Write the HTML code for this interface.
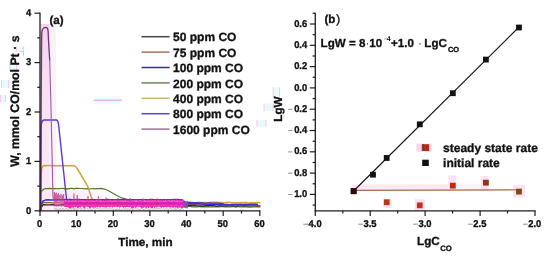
<!DOCTYPE html>
<html><head><meta charset="utf-8"><style>
html,body{margin:0;padding:0;background:#fff;}
body{width:550px;height:258px;overflow:hidden;font-family:"Liberation Sans", sans-serif;}
svg{display:block;will-change:transform;}
</style></head><body>
<svg width="550" height="258" viewBox="0 0 550 258" font-family='"Liberation Sans", sans-serif' fill="#111" text-rendering="geometricPrecision"><defs><linearGradient id="pk" x1="0" y1="0" x2="0" y2="1"><stop offset="0" stop-color="#f5d2ee"/><stop offset="0.35" stop-color="#f8e0f4"/><stop offset="1" stop-color="#fbeaf8"/></linearGradient></defs>
<rect x="41" y="27" width="15" height="183" fill="#fcf0fa"/>
<rect x="40.7" y="24" width="8.6" height="186" fill="url(#pk)"/>
<defs><linearGradient id="pk2" x1="0" y1="0" x2="1" y2="0"><stop offset="0" stop-color="#fbe8f8"/><stop offset="0.6" stop-color="#fcf0fa"/><stop offset="1" stop-color="#ffffff"/></linearGradient></defs>
<rect x="41" y="190" width="70" height="9.5" fill="url(#pk2)"/>
<rect x="95" y="96.5" width="25" height="7.5" fill="#ecfcfc"/>
<line x1="93.6" y1="100.2" x2="121.9" y2="100.2" stroke="#f4a2ec" stroke-width="1.3"/>
<rect x="16.5" y="46.5" width="7.0" height="5.0" fill="#e8fbfb"/>
<line x1="16.5" y1="46.5" x2="16.5" y2="51.5" stroke="#f8c0ee" stroke-width="0.9"/>
<line x1="23.5" y1="46.5" x2="23.5" y2="51.5" stroke="#f8c0ee" stroke-width="0.9"/>
<rect x="9.8" y="62" width="6.699999999999999" height="8" fill="#e8fbfb"/>
<line x1="9.8" y1="62" x2="9.8" y2="70" stroke="#f8c0ee" stroke-width="0.9"/>
<line x1="16.5" y1="62" x2="16.5" y2="70" stroke="#f8c0ee" stroke-width="0.9"/>
<rect x="1.5" y="80" width="7.0" height="8" fill="#e8fbfb"/>
<line x1="1.5" y1="80" x2="1.5" y2="88" stroke="#f8c0ee" stroke-width="0.9"/>
<line x1="8.5" y1="80" x2="8.5" y2="88" stroke="#f8c0ee" stroke-width="0.9"/>
<rect x="0.5" y="95" width="5.0" height="7" fill="#e8fbfb"/>
<line x1="0.5" y1="95" x2="0.5" y2="102" stroke="#f8c0ee" stroke-width="0.9"/>
<line x1="5.5" y1="95" x2="5.5" y2="102" stroke="#f8c0ee" stroke-width="0.9"/>
<rect x="273.2" y="87.5" width="6.300000000000011" height="9.299999999999997" fill="#e8fbfb"/>
<line x1="273.2" y1="87.5" x2="273.2" y2="96.8" stroke="#f8c0ee" stroke-width="0.9"/>
<line x1="279.5" y1="87.5" x2="279.5" y2="96.8" stroke="#f8c0ee" stroke-width="0.9"/>
<rect x="264" y="103.6" width="9" height="7.700000000000003" fill="#e8fbfb"/>
<line x1="264" y1="103.6" x2="264" y2="111.3" stroke="#f8c0ee" stroke-width="0.9"/>
<line x1="273" y1="103.6" x2="273" y2="111.3" stroke="#f8c0ee" stroke-width="0.9"/>
<rect x="257" y="119.8" width="9" height="6.799999999999997" fill="#e8fbfb"/>
<line x1="257" y1="119.8" x2="257" y2="126.6" stroke="#f8c0ee" stroke-width="0.9"/>
<line x1="266" y1="119.8" x2="266" y2="126.6" stroke="#f8c0ee" stroke-width="0.9"/>
<path d="M20.5,51.6 L23.6,51.6 L23.6,55.5" fill="none" stroke="#f4a8e8" stroke-width="1"/>
<polyline points="41.00,192.00 42.20,190.70 44.00,189.00 45.50,188.60 45.86,188.60 47.74,188.53 49.62,188.32 51.50,188.59 53.38,188.57 55.26,188.52 57.14,188.76 59.02,188.56 60.91,188.49 62.79,188.40 64.67,188.81 66.55,188.69 68.43,188.81 70.31,188.39 72.19,188.46 74.07,188.84 75.95,188.28 77.83,188.29 79.71,188.48 81.59,188.50 83.47,188.77 85.35,188.86 87.23,188.55 89.11,188.83 90.99,188.75 92.87,188.72 94.75,188.85 96.64,188.59 98.52,188.61 100.40,188.37 102.28,188.56 104.47,189.06 108.14,190.55 113.27,193.51 120.59,197.46 126.45,199.44 131.58,200.92 131.58,201.33 133.42,201.93 135.25,202.30 137.08,202.85 138.91,203.34 140.74,203.26 142.57,203.57 144.41,203.95 146.24,204.28 148.07,204.75 149.90,205.01 151.73,205.16 153.56,205.47 155.40,205.21 157.23,205.57 159.06,205.43 160.89,205.82 162.72,205.58 164.55,205.74 166.38,206.33 168.22,206.28 170.05,205.94 171.88,206.26 173.71,206.02 175.54,206.42 177.38,206.66 179.21,206.37 181.04,206.32 182.87,206.65 184.70,206.79 186.53,206.68 188.36,206.33 190.20,206.47 192.03,206.87 193.86,206.82 195.69,206.92 197.52,206.96 199.36,206.54 201.19,206.92 203.02,206.70 204.85,206.78 206.68,206.94 208.51,206.63 210.34,206.99 212.18,206.70 214.01,207.01 215.84,206.84 217.67,206.97 219.50,206.94 221.34,206.53 223.17,206.63 225.00,206.93 226.83,206.59 228.66,206.99 230.49,206.89 232.32,206.62 234.16,206.74 235.99,207.07 237.82,206.54 239.65,207.00 241.48,206.98 243.32,206.67 245.15,206.94 246.98,206.96 248.81,207.09 250.64,207.08 252.47,206.79 254.31,206.99 256.14,206.78 257.97,206.92 259.80,206.87" fill="none" stroke="#4e7a2a" stroke-width="1.2" stroke-linejoin="round" stroke-linecap="round" />
<polyline points="40.60,210.50 41.50,207.00 43.00,204.80 43.66,204.55 46.75,204.85 49.84,204.81 52.93,204.66 56.01,205.08 59.10,205.11 62.19,204.68 65.28,204.75 68.36,205.11 71.45,205.16 74.54,204.85 77.63,204.75 80.72,205.21 83.80,204.78 86.89,204.83 89.98,205.02 93.07,205.14 96.15,205.35 99.24,205.40 102.33,204.87 105.42,205.32 108.50,205.06 111.59,205.34 114.68,205.02 117.77,205.17 120.86,205.37 123.94,205.46 127.03,205.15 130.12,205.55 133.21,205.47 136.29,205.30 139.38,205.14 142.47,205.30 145.56,205.51 148.64,205.15 151.73,205.59 154.82,205.72 157.91,205.59 160.99,205.50 164.08,205.74 167.17,205.69 170.26,205.59 173.35,205.49 176.43,205.77 179.52,205.65 182.61,205.35 185.70,205.32 188.78,205.53 191.87,205.52 194.96,205.60 198.05,205.88 201.13,205.96 204.22,205.99 207.31,205.48 210.40,205.62 213.49,205.48 216.57,206.05 219.66,205.71 222.75,205.82 225.84,205.69 228.92,205.95 232.01,205.56 235.10,206.12 238.19,205.86 241.27,205.77 244.36,205.69 247.45,205.80 250.54,205.84 253.62,205.80 256.71,205.75 259.80,206.10" fill="none" stroke="#2e2418" stroke-width="1.35" stroke-linejoin="round" stroke-linecap="round" />
<polyline points="40.60,209.50 41.30,205.00 43.00,202.70 43.66,202.64 46.75,202.55 49.84,202.60 52.93,202.91 56.01,202.73 59.10,202.72 62.19,202.93 65.28,202.94 68.36,203.12 71.45,203.04 74.54,203.06 77.63,203.41 80.72,203.11 83.80,202.94 86.89,203.05 89.98,203.17 93.07,203.41 96.15,203.24 99.24,203.37 102.33,203.49 105.42,203.30 108.50,203.78 111.59,203.42 114.68,203.89 117.77,203.59 120.86,203.69 123.94,203.88 127.03,203.64 130.12,203.80 133.21,203.76 136.29,203.62 139.38,204.05 142.47,204.23 145.56,204.10 148.64,203.91 151.73,204.23 154.82,204.29 157.91,203.89 160.99,204.07 164.08,204.24 167.17,204.01 170.26,204.38 173.35,204.22 176.43,204.53 179.52,204.43 182.61,204.25 185.70,204.22 188.78,204.28 191.87,204.61 194.96,204.53 198.05,204.73 201.13,204.87 204.22,204.69 207.31,204.53 210.40,204.56 213.49,204.68 216.57,204.58 219.66,205.01 222.75,205.11 225.84,204.98 228.92,205.13 232.01,205.20 235.10,205.12 238.19,205.03 241.27,205.15 244.36,205.29 247.45,205.02 250.54,204.97 253.62,205.32 256.71,205.58 259.80,205.64" fill="none" stroke="#a0522a" stroke-width="1.1" stroke-linejoin="round" stroke-linecap="round" />
<polyline points="40.60,210.00 40.90,180.00 41.60,168.50 43.00,166.20 43.66,165.45 45.65,165.78 47.64,165.52 49.63,165.57 51.62,165.67 53.61,165.48 55.60,165.79 57.58,165.74 59.57,165.62 61.56,165.79 63.55,165.47 65.54,165.70 67.53,165.74 69.52,165.78 71.50,165.55 74.00,165.80 75.80,166.60 77.20,168.50 87.60,186.10 91.10,196.60 92.90,200.00 95.00,201.50 96.78,202.63 99.50,202.52 102.22,202.51 104.93,202.42 107.65,202.33 110.37,202.49 113.08,202.78 115.80,202.61 118.52,202.79 121.23,202.89 123.95,202.62 126.67,202.47 129.39,202.79 132.10,202.73 134.82,202.69 137.54,202.48 140.25,202.59 142.97,202.53 145.69,202.45 148.40,202.66 151.12,202.43 153.84,202.36 156.56,202.84 159.27,202.34 161.99,202.47 164.71,202.82 167.42,202.63 170.14,202.53 172.86,202.36 175.57,202.67 178.29,202.56 181.01,202.37 183.72,202.42 186.44,202.34 189.16,202.62 191.88,202.51 194.59,202.77 197.31,202.47 200.03,202.41 202.74,202.52 205.46,202.47 208.18,202.77 210.89,202.36 213.61,202.31 216.33,202.32 219.05,202.58 221.76,202.43 224.48,202.71 227.20,202.36 229.91,202.39 232.63,202.69 235.35,202.85 238.06,202.63 240.78,202.57 243.50,202.44 246.22,202.61 248.93,202.88 251.65,202.42 254.37,202.86 257.08,202.42 259.80,202.79" fill="none" stroke="#cca636" stroke-width="1.5" stroke-linejoin="round" stroke-linecap="round" />
<polyline points="40.60,210.00 41.50,204.00 43.00,201.00 45.30,200.10 45.50,199.91 47.88,199.69 50.26,200.01 52.64,200.01 55.02,199.83 57.40,199.72 59.78,199.67 62.16,199.74 64.54,199.61 66.93,199.84 69.31,199.61 71.69,200.04 74.07,199.97 76.45,199.82 78.83,199.94 81.21,199.72 83.59,199.76 85.97,199.82 88.36,199.66 90.74,199.80 93.12,199.93 95.50,199.89 97.88,199.66 100.26,199.64 102.64,199.98 105.02,199.66 107.41,199.60 109.79,199.82 112.17,199.80 114.55,199.98 116.93,199.82 119.31,199.83 121.69,199.78 124.07,200.07 126.45,199.60 128.84,199.83 131.22,199.88 133.60,199.68 135.98,199.80 138.36,199.84 140.74,199.74 143.12,200.05 145.50,199.81 147.89,199.88 150.27,199.61 152.65,199.62 155.03,199.95 157.41,199.85 159.79,200.02 162.17,199.87 164.55,199.68 166.93,199.64 169.32,199.84 171.70,199.92 174.08,199.99 176.46,199.77 178.84,199.62 181.22,200.13 183.60,201.31 185.98,203.18 188.36,203.50 190.75,203.56 193.13,203.41 195.51,203.67 197.89,203.73 200.27,203.68 202.65,204.01 205.03,203.78 207.41,204.15 209.80,204.04 212.18,204.24 214.56,204.35 216.94,204.26 219.32,204.38 221.70,204.49 224.08,204.52 226.46,204.46 228.84,204.64 231.23,204.62 233.61,204.41 235.99,204.41 238.37,204.46 240.75,204.30 243.13,204.42 245.51,204.30 247.89,204.61 250.28,204.36 252.66,204.32 255.04,204.28 257.42,204.57" fill="none" stroke="#3a2ad8" stroke-width="1.5" stroke-linejoin="round" stroke-linecap="round" />
<polyline points="66.50,199.50 67.47,199.79 70.36,199.43 73.24,199.85 76.13,199.39 79.01,199.46 81.90,199.90 84.78,199.84 87.67,199.55 90.55,199.83 93.44,199.92 96.32,199.49 99.21,199.73 102.09,199.51 104.98,199.91 107.86,199.74 110.75,199.58 113.63,199.97 116.52,199.86 119.40,199.58 122.29,199.44 125.17,199.41 128.06,199.91 130.94,199.68 133.83,199.53 136.71,199.68 139.60,199.57 142.48,199.87 145.37,199.94 148.25,199.92 151.14,199.96 154.02,199.65 156.91,199.68 159.79,199.64 162.68,199.89 165.56,199.87 168.45,199.86 171.33,199.48 174.22,199.39 177.10,199.43 179.99,199.92 182.87,199.94 184.70,202.13 187.27,202.49 189.83,202.38 192.39,202.70 194.96,202.69 197.52,202.72 200.09,202.84 202.65,202.80 205.22,203.22 207.78,202.88 210.34,202.86 212.91,203.32 215.47,203.22 218.04,203.12 220.60,203.38 223.17,203.57" fill="none" stroke="#4a30d0" stroke-width="1.2" stroke-linejoin="round" stroke-linecap="round" />
<path d="M53.74,200.38 L54.65,200.59 L55.57,201.00 L56.48,200.02 L57.40,200.41 L58.32,201.59 L59.23,201.34 L60.15,201.02 L61.06,201.02 L61.98,200.84 L62.90,201.07 L63.81,201.21 L63.81,206.98 L62.90,205.93 L61.98,207.28 L61.06,207.54 L60.15,206.10 L59.23,206.75 L58.32,206.74 L57.40,206.27 L56.48,207.47 L55.57,205.93 L54.65,207.01 L53.74,206.89 Z" fill="#e0409a" opacity="0.55"/>
<path d="M183.60,200.88 L184.52,201.78 L185.43,201.55 L186.35,201.54 L187.27,201.03 L188.18,201.11 L188.18,208.47 L187.27,208.20 L186.35,208.44 L185.43,208.36 L184.52,207.55 L183.60,206.66 Z" fill="#8a4ac8" opacity="0.85"/>
<path d="M63.81,200.51 L64.73,199.32 L65.64,200.64 L66.56,200.10 L67.47,199.91 L68.39,199.66 L69.31,200.03 L70.22,200.19 L71.14,200.47 L72.05,200.17 L72.97,200.48 L73.89,200.55 L74.80,200.24 L75.72,200.43 L76.63,199.56 L77.55,200.47 L78.47,199.24 L79.38,199.76 L80.30,199.57 L81.21,200.50 L82.13,200.08 L83.04,200.25 L83.96,200.51 L84.88,199.91 L85.79,199.60 L86.71,200.06 L87.62,199.42 L88.54,200.08 L89.46,199.17 L90.37,199.60 L91.29,200.53 L92.20,199.84 L93.12,200.13 L94.03,199.99 L94.95,200.60 L95.87,199.79 L96.78,199.48 L97.70,200.66 L98.61,199.98 L99.53,199.76 L100.45,199.13 L101.36,200.11 L102.28,200.10 L103.19,200.19 L104.11,200.23 L105.02,199.14 L105.94,200.18 L106.86,199.50 L107.77,200.05 L108.69,199.68 L109.60,199.69 L110.52,199.58 L111.44,200.34 L112.35,200.01 L113.27,199.60 L114.18,200.39 L115.10,199.40 L116.01,200.22 L116.93,199.62 L117.85,200.43 L118.76,200.47 L119.68,199.64 L120.59,200.52 L121.51,199.46 L122.42,199.95 L123.34,200.39 L124.26,199.39 L125.17,200.39 L126.09,200.39 L127.00,199.31 L127.92,200.37 L128.84,199.65 L129.75,199.77 L130.67,200.57 L131.58,199.11 L132.50,200.51 L133.42,199.79 L134.33,200.58 L135.25,200.29 L136.16,200.16 L137.08,199.56 L137.99,199.46 L138.91,200.04 L139.83,200.40 L140.74,200.55 L141.66,200.58 L142.57,200.54 L143.49,199.12 L144.41,199.37 L145.32,200.16 L146.24,199.76 L147.15,200.08 L148.07,199.50 L148.98,199.86 L149.90,199.66 L150.82,199.96 L151.73,199.37 L152.65,200.57 L153.56,200.42 L154.48,200.11 L155.40,199.18 L156.31,199.53 L157.23,199.78 L158.14,200.34 L159.06,199.19 L159.97,199.30 L160.89,200.66 L161.81,199.24 L162.72,199.61 L163.64,199.66 L164.55,200.04 L165.47,199.41 L166.38,199.30 L167.30,200.25 L168.22,199.23 L169.13,199.70 L170.05,200.35 L170.96,200.38 L171.88,199.79 L172.80,199.89 L173.71,199.77 L174.63,199.84 L175.54,199.96 L176.46,199.21 L177.38,199.78 L178.29,200.60 L179.21,200.54 L180.12,199.52 L181.04,199.30 L181.95,200.16 L182.87,200.37 L183.79,200.27 L183.79,207.53 L182.87,207.74 L181.95,208.17 L181.04,208.03 L180.12,207.33 L179.21,207.98 L178.29,207.15 L177.38,208.16 L176.46,207.25 L175.54,207.79 L174.63,206.89 L173.71,207.79 L172.80,207.81 L171.88,207.14 L170.96,207.65 L170.05,207.16 L169.13,207.61 L168.22,206.76 L167.30,207.16 L166.38,207.51 L165.47,207.06 L164.55,207.12 L163.64,207.69 L162.72,207.03 L161.81,207.40 L160.89,208.11 L159.97,206.54 L159.06,206.65 L158.14,206.40 L157.23,207.35 L156.31,207.45 L155.40,206.94 L154.48,208.13 L153.56,206.42 L152.65,208.01 L151.73,207.98 L150.82,208.03 L149.90,206.79 L148.98,207.96 L148.07,208.12 L147.15,207.08 L146.24,208.28 L145.32,207.45 L144.41,207.00 L143.49,207.89 L142.57,207.55 L141.66,208.19 L140.74,207.79 L139.83,206.49 L138.91,206.97 L137.99,206.54 L137.08,207.08 L136.16,207.44 L135.25,208.07 L134.33,206.84 L133.42,208.30 L132.50,208.37 L131.58,208.29 L130.67,206.71 L129.75,207.22 L128.84,207.23 L127.92,206.94 L127.00,206.98 L126.09,207.09 L125.17,207.68 L124.26,206.96 L123.34,208.08 L122.42,206.78 L121.51,206.64 L120.59,207.30 L119.68,207.70 L118.76,206.74 L117.85,207.28 L116.93,207.07 L116.01,206.60 L115.10,207.27 L114.18,206.88 L113.27,206.85 L112.35,207.87 L111.44,206.45 L110.52,207.15 L109.60,207.59 L108.69,207.03 L107.77,207.04 L106.86,207.31 L105.94,208.33 L105.02,206.52 L104.11,207.88 L103.19,207.11 L102.28,207.33 L101.36,206.52 L100.45,207.63 L99.53,207.56 L98.61,206.42 L97.70,207.44 L96.78,207.00 L95.87,207.84 L94.95,207.41 L94.03,207.64 L93.12,207.59 L92.20,207.44 L91.29,207.16 L90.37,208.32 L89.46,208.14 L88.54,206.71 L87.62,207.22 L86.71,206.46 L85.79,206.55 L84.88,208.40 L83.96,208.36 L83.04,207.06 L82.13,206.49 L81.21,206.49 L80.30,207.94 L79.38,206.70 L78.47,208.00 L77.55,208.38 L76.63,206.53 L75.72,207.55 L74.80,206.82 L73.89,207.54 L72.97,208.33 L72.05,206.73 L71.14,208.38 L70.22,208.26 L69.31,208.21 L68.39,207.57 L67.47,207.17 L66.56,207.00 L65.64,207.27 L64.73,206.83 L63.81,206.59 Z" fill="#e428b2" opacity="1.0"/>
<polyline points="64.18,200.59 64.62,201.46 65.06,200.41 65.50,200.66 65.94,201.79 66.38,200.48 66.82,200.57 67.26,200.58 67.69,201.98 68.13,200.72 68.57,200.44 69.01,201.91 69.45,200.62 69.89,201.92 70.33,201.61 70.77,201.91 71.21,202.11 71.65,201.44 72.09,201.84 72.53,200.47 72.97,201.78 73.41,201.32 73.85,201.69 74.29,200.59 74.73,201.75 75.17,202.08 75.61,200.51 76.05,200.98 76.49,201.42 76.93,201.89 77.37,200.84 77.81,200.72 78.25,200.85 78.68,201.51 79.12,201.76 79.56,201.11 80.00,201.06 80.44,201.11 80.88,201.03 81.32,201.15 81.76,200.55 82.20,201.30 82.64,202.15 83.08,201.14 83.52,201.75 83.96,200.69 84.40,201.64 84.84,201.76 85.28,201.61 85.72,201.33 86.16,201.27 86.60,201.56 87.04,202.02 87.48,200.67 87.92,200.57 88.36,201.75 88.80,202.05 89.24,201.33 89.67,201.20 90.11,201.69 90.55,200.73 90.99,200.88 91.43,200.76 91.87,201.45 92.31,200.97 92.75,200.82 93.19,201.64 93.63,202.12 94.07,200.93 94.51,201.67 94.95,201.14 95.39,201.94 95.83,201.45 96.27,200.88 96.71,200.79 97.15,200.44 97.59,201.26 98.03,201.09 98.47,200.71 98.91,201.05 99.35,200.98 99.79,201.79 100.23,200.66 100.66,202.18 101.10,201.26 101.54,201.48 101.98,201.24 102.42,201.90 102.86,201.88 103.30,201.40 103.74,201.27 104.18,201.70 104.62,201.94 105.06,201.12 105.50,201.72 105.94,202.13 106.38,201.24 106.82,200.81 107.26,200.82 107.70,201.69 108.14,201.62 108.58,202.13 109.02,201.94 109.46,200.84 109.90,200.74 110.34,200.87 110.78,200.74 111.22,201.67 111.65,201.95 112.09,202.02 112.53,200.86 112.97,201.96 113.41,200.96 113.85,201.16 114.29,201.71 114.73,200.55 115.17,200.57 115.61,201.90 116.05,200.93 116.49,201.04 116.93,201.44 117.37,201.62 117.81,200.41 118.25,201.00 118.69,201.19 119.13,201.27 119.57,200.78 120.01,201.45 120.45,202.12 120.89,201.10 121.33,201.38 121.77,200.61 122.21,200.89 122.64,201.60 123.08,200.60 123.52,202.00 123.96,202.04 124.40,200.57 124.84,202.09 125.28,201.07 125.72,201.79 126.16,201.76 126.60,200.93 127.04,201.62 127.48,201.58 127.92,201.85 128.36,200.88 128.80,201.76 129.24,202.13 129.68,201.61 130.12,201.37 130.56,200.60 131.00,201.29 131.44,201.03 131.88,201.69 132.32,201.62 132.76,201.42 133.20,200.73 133.63,201.56 134.07,201.54 134.51,200.72 134.95,202.00 135.39,201.58 135.83,200.62 136.27,202.08 136.71,200.65 137.15,201.00 137.59,201.70 138.03,201.48 138.47,201.40 138.91,201.57 139.35,201.22 139.79,200.96 140.23,200.72 140.67,200.52 141.11,201.69 141.55,201.76 141.99,201.38 142.43,201.73 142.87,201.05 143.31,200.88 143.75,201.09 144.19,201.97 144.62,200.48 145.06,201.31 145.50,200.84 145.94,201.78 146.38,201.04 146.82,201.00 147.26,201.13 147.70,201.37 148.14,201.79 148.58,201.04 149.02,201.92 149.46,200.60 149.90,200.89 150.34,200.58 150.78,200.60 151.22,201.80 151.66,201.71 152.10,200.73 152.54,200.74 152.98,201.15 153.42,201.74 153.86,201.87 154.30,201.75 154.74,201.47 155.18,200.66 155.61,201.12 156.05,200.75 156.49,201.35 156.93,201.42 157.37,200.76 157.81,200.85 158.25,201.81 158.69,200.45 159.13,201.85 159.57,202.00 160.01,202.11 160.45,201.09 160.89,201.39 161.33,201.45 161.77,201.54 162.21,202.16 162.65,201.64 163.09,200.94 163.53,201.95 163.97,201.27 164.41,201.48 164.85,201.71 165.29,200.40 165.73,201.79 166.17,201.59 166.60,201.29 167.04,201.34 167.48,201.23 167.92,200.75 168.36,201.35 168.80,200.47 169.24,201.30 169.68,201.56 170.12,201.20 170.56,201.42 171.00,202.13 171.44,202.01 171.88,200.64 172.32,201.83 172.76,201.52 173.20,200.49 173.64,201.05 174.08,200.82 174.52,200.54 174.96,201.37 175.40,202.07 175.84,200.98 176.28,201.97 176.72,201.65 177.16,200.64 177.59,201.94 178.03,201.48 178.47,202.07 178.91,201.69 179.35,201.73 179.79,201.02 180.23,201.85 180.67,202.08 181.11,201.95 181.55,201.19 181.99,201.76 182.43,201.27 182.87,200.60 183.31,200.48" fill="none" stroke="#ff78dc" stroke-width="0.8" stroke-linejoin="round" stroke-linecap="round" opacity="0.8"/>
<polyline points="64.18,202.84 64.62,203.06 65.06,202.99 65.50,203.59 65.94,203.96 66.38,203.67 66.82,203.46 67.26,203.87 67.69,203.25 68.13,203.54 68.57,204.06 69.01,203.42 69.45,203.03 69.89,204.32 70.33,204.00 70.77,203.36 71.21,203.37 71.65,203.65 72.09,203.77 72.53,203.10 72.97,202.70 73.41,203.08 73.85,204.11 74.29,202.96 74.73,203.53 75.17,203.05 75.61,203.08 76.05,203.01 76.49,203.43 76.93,203.00 77.37,202.75 77.81,202.90 78.25,203.00 78.68,203.58 79.12,202.81 79.56,202.74 80.00,203.51 80.44,203.43 80.88,203.97 81.32,202.79 81.76,203.43 82.20,203.41 82.64,202.75 83.08,204.44 83.52,203.09 83.96,202.87 84.40,203.55 84.84,203.00 85.28,203.82 85.72,203.32 86.16,202.92 86.60,202.79 87.04,204.01 87.48,203.20 87.92,204.12 88.36,203.54 88.80,204.38 89.24,203.24 89.67,203.15 90.11,203.18 90.55,204.17 90.99,203.83 91.43,203.32 91.87,202.87 92.31,203.93 92.75,204.44 93.19,203.77 93.63,202.71 94.07,202.75 94.51,202.86 94.95,203.01 95.39,202.77 95.83,202.80 96.27,203.88 96.71,204.32 97.15,203.06 97.59,204.45 98.03,203.56 98.47,204.15 98.91,204.35 99.35,204.39 99.79,202.76 100.23,203.25 100.66,203.79 101.10,204.40 101.54,202.86 101.98,203.23 102.42,204.23 102.86,202.91 103.30,203.40 103.74,203.30 104.18,203.92 104.62,204.37 105.06,203.01 105.50,204.03 105.94,204.02 106.38,204.20 106.82,203.70 107.26,204.36 107.70,203.35 108.14,203.45 108.58,203.11 109.02,204.10 109.46,203.57 109.90,203.19 110.34,203.01 110.78,204.00 111.22,203.79 111.65,203.98 112.09,203.40 112.53,203.58 112.97,202.98 113.41,203.98 113.85,202.74 114.29,203.54 114.73,204.07 115.17,203.92 115.61,202.87 116.05,203.13 116.49,204.22 116.93,203.86 117.37,204.28 117.81,204.27 118.25,203.51 118.69,204.31 119.13,204.02 119.57,203.30 120.01,203.37 120.45,202.83 120.89,203.42 121.33,204.42 121.77,202.89 122.21,203.72 122.64,202.90 123.08,202.85 123.52,203.87 123.96,203.13 124.40,202.79 124.84,202.97 125.28,203.86 125.72,203.75 126.16,202.72 126.60,203.11 127.04,204.44 127.48,203.10 127.92,203.71 128.36,203.46 128.80,204.11 129.24,203.79 129.68,204.12 130.12,203.66 130.56,203.04 131.00,203.02 131.44,202.84 131.88,204.19 132.32,202.90 132.76,202.74 133.20,204.44 133.63,203.06 134.07,204.31 134.51,202.85 134.95,203.54 135.39,203.10 135.83,204.19 136.27,203.81 136.71,203.86 137.15,204.07 137.59,204.27 138.03,203.32 138.47,203.79 138.91,203.50 139.35,202.90 139.79,204.20 140.23,203.77 140.67,204.17 141.11,203.07 141.55,203.67 141.99,203.54 142.43,204.01 142.87,202.84 143.31,203.32 143.75,203.57 144.19,202.83 144.62,203.69 145.06,204.02 145.50,203.46 145.94,203.87 146.38,203.79 146.82,203.09 147.26,203.33 147.70,204.49 148.14,203.30 148.58,203.48 149.02,202.85 149.46,203.09 149.90,203.00 150.34,204.38 150.78,204.01 151.22,204.27 151.66,204.48 152.10,203.80 152.54,204.38 152.98,203.66 153.42,203.45 153.86,204.41 154.30,204.33 154.74,204.41 155.18,203.57 155.61,204.09 156.05,203.43 156.49,204.50 156.93,204.36 157.37,203.23 157.81,204.38 158.25,203.03 158.69,202.87 159.13,204.00 159.57,203.23 160.01,203.64 160.45,203.85 160.89,202.77 161.33,204.04 161.77,203.20 162.21,203.48 162.65,203.32 163.09,204.04 163.53,204.04 163.97,203.22 164.41,202.89 164.85,203.24 165.29,203.44 165.73,202.84 166.17,202.98 166.60,204.07 167.04,203.96 167.48,204.46 167.92,204.46 168.36,204.28 168.80,203.37 169.24,202.99 169.68,203.26 170.12,203.53 170.56,203.65 171.00,203.68 171.44,203.35 171.88,204.23 172.32,203.21 172.76,203.53 173.20,204.30 173.64,204.15 174.08,203.24 174.52,203.14 174.96,204.15 175.40,202.72 175.84,202.94 176.28,203.66 176.72,203.66 177.16,203.00 177.59,202.79 178.03,203.07 178.47,204.09 178.91,203.54 179.35,204.46 179.79,204.11 180.23,204.46 180.67,202.76 181.11,203.03 181.55,202.72 181.99,203.48 182.43,203.31 182.87,202.79 183.31,203.68" fill="none" stroke="#f0107a" stroke-width="0.9" stroke-linejoin="round" stroke-linecap="round" opacity="0.7"/>
<polyline points="64.18,204.87 64.62,205.26 65.06,205.15 65.50,206.14 65.94,205.45 66.38,205.17 66.82,204.78 67.26,205.47 67.69,205.83 68.13,205.92 68.57,206.34 69.01,206.16 69.45,205.15 69.89,204.94 70.33,206.06 70.77,206.12 71.21,205.62 71.65,206.20 72.09,205.69 72.53,205.20 72.97,205.00 73.41,204.73 73.85,205.86 74.29,206.31 74.73,206.33 75.17,205.54 75.61,205.90 76.05,206.37 76.49,206.17 76.93,205.78 77.37,205.45 77.81,205.63 78.25,205.01 78.68,205.03 79.12,205.93 79.56,206.49 80.00,205.68 80.44,205.43 80.88,205.33 81.32,205.52 81.76,206.15 82.20,205.51 82.64,206.43 83.08,204.98 83.52,205.27 83.96,205.64 84.40,205.44 84.84,206.23 85.28,206.19 85.72,206.38 86.16,205.80 86.60,204.76 87.04,205.73 87.48,205.69 87.92,205.58 88.36,205.20 88.80,205.98 89.24,206.34 89.67,204.88 90.11,205.90 90.55,205.37 90.99,205.63 91.43,206.31 91.87,206.43 92.31,205.86 92.75,205.05 93.19,206.36 93.63,205.03 94.07,205.39 94.51,206.19 94.95,205.27 95.39,205.19 95.83,206.41 96.27,206.40 96.71,205.27 97.15,205.41 97.59,205.21 98.03,204.94 98.47,205.15 98.91,206.46 99.35,204.84 99.79,205.11 100.23,205.06 100.66,204.84 101.10,205.65 101.54,206.04 101.98,206.21 102.42,205.84 102.86,206.17 103.30,204.71 103.74,205.21 104.18,206.43 104.62,204.82 105.06,205.18 105.50,205.57 105.94,205.18 106.38,205.68 106.82,204.78 107.26,205.12 107.70,206.42 108.14,204.96 108.58,206.33 109.02,205.02 109.46,206.49 109.90,205.91 110.34,205.86 110.78,204.96 111.22,204.80 111.65,206.07 112.09,205.02 112.53,205.04 112.97,206.18 113.41,206.27 113.85,204.79 114.29,206.43 114.73,205.66 115.17,205.39 115.61,204.89 116.05,205.40 116.49,206.48 116.93,205.21 117.37,204.94 117.81,204.96 118.25,204.93 118.69,205.33 119.13,206.35 119.57,204.84 120.01,205.05 120.45,206.39 120.89,206.49 121.33,206.46 121.77,205.14 122.21,205.34 122.64,206.41 123.08,205.57 123.52,205.97 123.96,205.26 124.40,204.74 124.84,205.32 125.28,206.05 125.72,206.11 126.16,205.72 126.60,205.54 127.04,205.67 127.48,205.50 127.92,205.66 128.36,206.20 128.80,205.06 129.24,205.77 129.68,206.38 130.12,206.23 130.56,205.02 131.00,206.43 131.44,206.21 131.88,205.00 132.32,205.18 132.76,205.06 133.20,204.80 133.63,206.46 134.07,205.44 134.51,206.27 134.95,204.91 135.39,204.73 135.83,206.27 136.27,206.13 136.71,206.48 137.15,205.93 137.59,205.65 138.03,206.08 138.47,204.87 138.91,205.67 139.35,205.49 139.79,204.96 140.23,205.78 140.67,205.28 141.11,205.61 141.55,205.37 141.99,205.27 142.43,205.35 142.87,205.78 143.31,206.46 143.75,206.39 144.19,206.25 144.62,206.20 145.06,205.22 145.50,206.46 145.94,205.19 146.38,204.92 146.82,205.60 147.26,206.02 147.70,205.31 148.14,205.86 148.58,205.21 149.02,206.44 149.46,205.52 149.90,205.56 150.34,205.66 150.78,206.27 151.22,206.48 151.66,205.65 152.10,205.49 152.54,205.81 152.98,204.82 153.42,205.47 153.86,206.23 154.30,206.10 154.74,204.81 155.18,206.24 155.61,205.39 156.05,206.47 156.49,205.36 156.93,205.09 157.37,205.69 157.81,206.29 158.25,205.48 158.69,206.26 159.13,205.98 159.57,205.35 160.01,205.24 160.45,205.61 160.89,205.42 161.33,205.37 161.77,205.87 162.21,206.28 162.65,205.75 163.09,204.96 163.53,205.10 163.97,205.37 164.41,205.81 164.85,204.95 165.29,204.85 165.73,205.28 166.17,205.21 166.60,204.75 167.04,205.67 167.48,206.36 167.92,205.66 168.36,206.03 168.80,206.19 169.24,206.21 169.68,206.34 170.12,205.49 170.56,205.93 171.00,204.92 171.44,206.28 171.88,205.38 172.32,205.56 172.76,206.30 173.20,205.22 173.64,205.04 174.08,206.18 174.52,205.78 174.96,204.85 175.40,204.75 175.84,205.33 176.28,204.71 176.72,206.20 177.16,205.03 177.59,205.19 178.03,205.40 178.47,205.62 178.91,205.48 179.35,205.83 179.79,205.89 180.23,205.49 180.67,204.87 181.11,206.46 181.55,205.94 181.99,204.85 182.43,205.50 182.87,206.06 183.31,206.49" fill="none" stroke="#ff60c8" stroke-width="0.7" stroke-linejoin="round" stroke-linecap="round" opacity="0.6"/>
<polyline points="64.18,201.72 64.62,201.62 65.06,202.46 65.50,202.36 65.94,203.21 66.38,203.09 66.82,202.20 67.26,202.35 67.69,202.65 68.13,203.19 68.57,201.96 69.01,202.31 69.45,201.76 69.89,202.75 70.33,201.65 70.77,203.28 71.21,202.54 71.65,202.63 72.09,201.75 72.53,202.02 72.97,202.44 73.41,203.14 73.85,202.57 74.29,202.11 74.73,203.37 75.17,202.79 75.61,202.55 76.05,201.96 76.49,202.14 76.93,203.22 77.37,201.84 77.81,202.56 78.25,202.72 78.68,202.24 79.12,202.98 79.56,203.24 80.00,203.14 80.44,202.93 80.88,201.97 81.32,201.71 81.76,202.38 82.20,202.16 82.64,201.95 83.08,203.17 83.52,201.99 83.96,203.08 84.40,203.29 84.84,201.82 85.28,203.24 85.72,202.31 86.16,201.98 86.60,201.94 87.04,201.67 87.48,202.50 87.92,202.29 88.36,203.13 88.80,203.10 89.24,201.70 89.67,202.32 90.11,202.30 90.55,201.92 90.99,202.05 91.43,202.07 91.87,202.85 92.31,202.21 92.75,201.80 93.19,202.00 93.63,202.40 94.07,202.62 94.51,202.04 94.95,202.86 95.39,201.99 95.83,202.81 96.27,202.70 96.71,201.92 97.15,202.95 97.59,202.31 98.03,202.57 98.47,202.68 98.91,202.73 99.35,202.40 99.79,201.70 100.23,203.02 100.66,203.15 101.10,202.48 101.54,202.64 101.98,202.08 102.42,203.22 102.86,202.83 103.30,202.00 103.74,203.07 104.18,203.38 104.62,202.22 105.06,203.39 105.50,202.47 105.94,201.92 106.38,202.89 106.82,202.21 107.26,202.92 107.70,202.65 108.14,201.79 108.58,202.55 109.02,203.13 109.46,202.46 109.90,202.57 110.34,203.15 110.78,202.40 111.22,202.49 111.65,202.65 112.09,203.08 112.53,201.97 112.97,201.77 113.41,202.97 113.85,202.59 114.29,202.14 114.73,203.21 115.17,203.19 115.61,202.57 116.05,203.38 116.49,203.10 116.93,202.95 117.37,202.12 117.81,201.62 118.25,202.82 118.69,202.92 119.13,202.23 119.57,202.46 120.01,202.62 120.45,202.05 120.89,202.86 121.33,202.61 121.77,202.29 122.21,201.80 122.64,202.60 123.08,202.18 123.52,202.90 123.96,201.91 124.40,202.31 124.84,201.95 125.28,202.33 125.72,202.64 126.16,201.79 126.60,201.70 127.04,202.47 127.48,201.96 127.92,202.51 128.36,201.90 128.80,201.78 129.24,202.57 129.68,203.26 130.12,203.16 130.56,202.53 131.00,202.32 131.44,201.72 131.88,202.10 132.32,202.17 132.76,203.29 133.20,201.81 133.63,203.31 134.07,202.46 134.51,202.38 134.95,202.07 135.39,203.33 135.83,201.93 136.27,202.63 136.71,202.52 137.15,201.96 137.59,202.00 138.03,203.37 138.47,203.02 138.91,202.92 139.35,203.23 139.79,201.78 140.23,202.87 140.67,202.95 141.11,202.01 141.55,202.42 141.99,203.35 142.43,202.19 142.87,202.97 143.31,201.90 143.75,202.80 144.19,202.09 144.62,202.52 145.06,202.27 145.50,203.17 145.94,202.94 146.38,202.51 146.82,202.84 147.26,202.37 147.70,203.05 148.14,202.06 148.58,202.58 149.02,202.65 149.46,202.30 149.90,201.68 150.34,201.91 150.78,202.75 151.22,201.98 151.66,202.96 152.10,202.51 152.54,203.32 152.98,203.13 153.42,202.91 153.86,202.27 154.30,201.68 154.74,202.60 155.18,202.94 155.61,203.26 156.05,201.96 156.49,201.89 156.93,203.36 157.37,202.93 157.81,202.47 158.25,202.93 158.69,201.87 159.13,202.58 159.57,202.80 160.01,202.69 160.45,201.89 160.89,201.85 161.33,202.72 161.77,203.19 162.21,201.85 162.65,201.61 163.09,201.75 163.53,203.01 163.97,202.30 164.41,202.42 164.85,203.39 165.29,202.70 165.73,202.07 166.17,202.86 166.60,201.60 167.04,202.11 167.48,202.86 167.92,201.91 168.36,201.66 168.80,202.53 169.24,202.19 169.68,203.35 170.12,201.78 170.56,203.04 171.00,202.30 171.44,203.05 171.88,202.40 172.32,202.80 172.76,202.19 173.20,202.00 173.64,202.41 174.08,203.04 174.52,202.22 174.96,202.01 175.40,202.35 175.84,201.77 176.28,202.17 176.72,202.63 177.16,202.58 177.59,202.68 178.03,202.12 178.47,201.64 178.91,201.65 179.35,202.21 179.79,201.95 180.23,202.62 180.67,202.08 181.11,202.97 181.55,202.68 181.99,202.79 182.43,202.92 182.87,202.54 183.31,202.37" fill="none" stroke="#c020c0" stroke-width="0.5" stroke-linejoin="round" stroke-linecap="round" opacity="0.5"/>
<polyline points="54.00,201.00 54.30,192.00 54.60,201.00" fill="none" stroke="#b83a88" stroke-width="0.6" stroke-linejoin="round" stroke-linecap="round" />
<polyline points="54.90,201.00 55.20,193.50 55.50,201.00" fill="none" stroke="#b83a88" stroke-width="0.6" stroke-linejoin="round" stroke-linecap="round" />
<polyline points="55.90,201.00 56.20,192.50 56.50,201.00" fill="none" stroke="#b83a88" stroke-width="0.6" stroke-linejoin="round" stroke-linecap="round" />
<polyline points="57.00,201.00 57.30,194.50 57.60,201.00" fill="none" stroke="#b83a88" stroke-width="0.6" stroke-linejoin="round" stroke-linecap="round" />
<polyline points="58.20,201.00 58.50,193.00 58.80,201.00" fill="none" stroke="#b83a88" stroke-width="0.6" stroke-linejoin="round" stroke-linecap="round" />
<polyline points="59.50,201.00 59.80,195.00 60.10,201.00" fill="none" stroke="#b83a88" stroke-width="0.6" stroke-linejoin="round" stroke-linecap="round" />
<polyline points="60.80,201.00 61.10,193.80 61.40,201.00" fill="none" stroke="#b83a88" stroke-width="0.6" stroke-linejoin="round" stroke-linecap="round" />
<polyline points="62.10,201.00 62.40,195.50 62.70,201.00" fill="none" stroke="#b83a88" stroke-width="0.6" stroke-linejoin="round" stroke-linecap="round" />
<polyline points="63.30,201.00 63.60,194.00 63.90,201.00" fill="none" stroke="#b83a88" stroke-width="0.6" stroke-linejoin="round" stroke-linecap="round" />
<polyline points="73.60,201.00 73.90,193.50 74.20,201.00" fill="none" stroke="#b83a88" stroke-width="0.6" stroke-linejoin="round" stroke-linecap="round" />
<polyline points="76.90,201.00 77.20,195.00 77.50,201.00" fill="none" stroke="#b83a88" stroke-width="0.6" stroke-linejoin="round" stroke-linecap="round" />
<polyline points="87.70,201.00 88.00,196.00 88.30,201.00" fill="none" stroke="#b83a88" stroke-width="0.6" stroke-linejoin="round" stroke-linecap="round" />
<polyline points="98.10,201.00 98.40,196.00 98.70,201.00" fill="none" stroke="#b83a88" stroke-width="0.6" stroke-linejoin="round" stroke-linecap="round" />
<polyline points="105.70,201.00 106.00,197.50 106.30,201.00" fill="none" stroke="#b83a88" stroke-width="0.6" stroke-linejoin="round" stroke-linecap="round" />
<polyline points="117.70,201.00 118.00,198.00 118.30,201.00" fill="none" stroke="#b83a88" stroke-width="0.6" stroke-linejoin="round" stroke-linecap="round" />
<polyline points="129.70,201.00 130.00,198.00 130.30,201.00" fill="none" stroke="#b83a88" stroke-width="0.6" stroke-linejoin="round" stroke-linecap="round" />
<polyline points="142.70,201.00 143.00,198.50 143.30,201.00" fill="none" stroke="#b83a88" stroke-width="0.6" stroke-linejoin="round" stroke-linecap="round" />
<polyline points="156.70,201.00 157.00,198.50 157.30,201.00" fill="none" stroke="#b83a88" stroke-width="0.6" stroke-linejoin="round" stroke-linecap="round" />
<polyline points="54.65,208.81 55.20,208.56 55.75,209.29 56.30,209.00 56.85,208.60 57.40,209.43 57.95,209.08 58.50,209.12 59.05,208.94 59.60,208.63 60.15,209.50 60.70,208.67 61.25,208.87 61.80,209.50 62.35,208.62 62.90,209.00 63.45,208.98 63.99,208.75 64.54,209.42 65.09,208.91 65.64,208.51 66.19,208.97 66.74,208.50 67.29,209.21 67.84,209.37 68.39,209.41 68.94,208.55 69.49,209.18 70.04,208.80 70.59,208.97 71.14,208.80 71.69,208.81 72.24,208.63 72.79,209.13 73.34,208.59 73.89,209.46 74.44,208.54 74.98,209.46 75.53,208.69 76.08,208.58 76.63,209.24 77.18,209.03 77.73,209.27 78.28,209.01 78.83,209.13 79.38,208.58 79.93,209.17 80.48,209.01 81.03,209.46 81.58,208.51 82.13,208.57 82.68,209.18 83.23,209.43 83.78,208.92 84.33,209.21 84.88,209.06 85.43,208.89 85.97,208.97 86.52,209.10 87.07,208.53 87.62,208.81 88.17,209.24 88.72,208.76 89.27,208.97 89.82,208.76 90.37,208.86 90.92,209.15 91.47,209.24 92.02,209.46 92.57,208.98 93.12,208.70 93.67,208.84 94.22,208.56 94.77,208.74 95.32,209.08 95.87,209.11 96.42,208.74 96.96,208.68 97.51,208.60 98.06,208.68 98.61,209.00 99.16,208.76 99.71,209.38 100.26,209.06 100.81,208.84 101.36,208.93 101.91,208.54 102.46,209.23 103.01,209.25 103.56,208.86 104.11,209.23 104.66,208.77 105.21,208.72 105.76,208.73 106.31,208.70 106.86,209.11 107.41,209.14 107.95,209.23 108.50,208.60 109.05,209.27 109.60,208.98 110.15,208.88 110.70,209.00 111.25,208.93 111.80,208.70 112.35,208.90 112.90,209.15 113.45,209.22 114.00,209.42 114.55,208.69 115.10,209.39 115.65,209.30 116.20,209.21 116.75,209.48 117.30,208.64 117.85,209.28 118.40,209.40 118.94,208.62 119.49,209.09 120.04,209.45 120.59,208.79 121.14,209.36 121.69,209.41 122.24,208.94 122.79,208.65 123.34,208.72 123.89,209.33 124.44,208.92 124.99,208.82 125.54,208.94 126.09,209.43 126.64,208.75 127.19,208.52 127.74,209.45 128.29,208.82 128.84,208.89 129.39,209.48 129.93,208.78 130.48,208.59 131.03,209.39 131.58,208.74 132.13,208.72 132.68,209.44 133.23,208.73 133.78,209.40 134.33,208.83 134.88,208.80 135.43,208.72 135.98,209.04 136.53,209.06 137.08,208.90 137.63,209.01 138.18,208.80 138.73,209.34 139.28,209.43 139.83,209.25 140.38,209.32 140.92,208.57 141.47,208.75 142.02,208.70 142.57,208.65 143.12,209.47 143.67,209.41 144.22,209.41 144.77,209.06 145.32,208.62 145.87,208.93 146.42,208.56 146.97,209.40 147.52,208.77 148.07,208.79 148.62,209.45 149.17,208.70 149.72,209.42 150.27,208.81 150.82,209.16 151.37,208.61 151.91,209.40 152.46,208.90 153.01,208.85 153.56,209.15 154.11,209.09 154.66,208.75 155.21,208.62 155.76,209.08 156.31,208.52 156.86,209.37 157.41,208.84 157.96,208.67 158.51,208.83 159.06,208.61 159.61,208.82 160.16,209.04 160.71,208.91 161.26,208.83 161.81,208.79 162.36,208.99 162.90,209.28 163.45,208.94 164.00,209.27 164.55,208.98 165.10,208.62 165.65,208.67 166.20,209.35 166.75,208.98 167.30,208.88 167.85,209.02 168.40,209.35 168.95,208.88 169.50,208.86 170.05,208.87 170.60,208.51 171.15,209.04 171.70,208.98 172.25,209.00 172.80,208.95 173.35,208.97 173.89,209.22 174.44,208.69 174.99,209.48 175.54,208.61 176.09,209.37 176.64,208.68 177.19,209.30 177.74,208.76 178.29,208.58 178.84,209.04 179.39,209.34 179.94,209.35 180.49,209.38 181.04,209.48 181.59,208.55 182.14,208.88 182.69,208.61 183.24,209.26" fill="none" stroke="#4a3048" stroke-width="0.7" stroke-linejoin="round" stroke-linecap="round" opacity="0.55"/>
<path d="M40.5,210.5 L40.8,140 L41.2,126 C41.5,121.5 42.4,120.1 44,120 L56.6,120 C57.4,120.1 57.9,121 58.5,124 L66.5,199 L67.5,200.4" fill="none" stroke="#5c36dc" stroke-width="1.4" stroke-linejoin="round" stroke-linecap="round" />
<path d="M40.7,210.5 L41.2,100 L41.6,40 L41.8,33 C42,29.5 43.5,27.4 45.6,27.3 C47.2,27.3 47.9,28.4 48.1,31 L48.5,40 L49.7,60" fill="none" stroke="#74306e" stroke-width="1.3" stroke-linejoin="round" stroke-linecap="round" />
<path d="M49.7,60 L50.8,100 L51.7,140 L52.4,170 L52.9,196 L53.6,200" fill="none" stroke="#9a5a96" stroke-width="1.1" stroke-linejoin="round" stroke-linecap="round" />
<line x1="40" y1="12.6" x2="40" y2="211.4" stroke="#1e1e1e" stroke-width="1.3"/>
<line x1="39.4" y1="210.8" x2="260.4" y2="210.8" stroke="#1e1e1e" stroke-width="1.3"/>
<line x1="34.5" y1="210.8" x2="40" y2="210.8" stroke="#1e1e1e" stroke-width="1.2"/>
<text transform="translate(31.20,213.50) scale(0.95,1)" text-anchor="end" font-size="9.9" font-weight="bold" stroke="#111" stroke-width="0.32">0</text>
<line x1="34.5" y1="161.4" x2="40" y2="161.4" stroke="#1e1e1e" stroke-width="1.2"/>
<text transform="translate(31.20,164.10) scale(0.95,1)" text-anchor="end" font-size="9.9" font-weight="bold" stroke="#111" stroke-width="0.32">1</text>
<line x1="34.5" y1="112.0" x2="40" y2="112.0" stroke="#1e1e1e" stroke-width="1.2"/>
<text transform="translate(31.20,114.70) scale(0.95,1)" text-anchor="end" font-size="9.9" font-weight="bold" stroke="#111" stroke-width="0.32">2</text>
<line x1="34.5" y1="62.6" x2="40" y2="62.6" stroke="#1e1e1e" stroke-width="1.2"/>
<text transform="translate(31.20,65.30) scale(0.95,1)" text-anchor="end" font-size="9.9" font-weight="bold" stroke="#111" stroke-width="0.32">3</text>
<line x1="34.5" y1="13.2" x2="40" y2="13.2" stroke="#1e1e1e" stroke-width="1.2"/>
<text transform="translate(31.20,15.90) scale(0.95,1)" text-anchor="end" font-size="9.9" font-weight="bold" stroke="#111" stroke-width="0.32">4</text>
<line x1="37.2" y1="186.1" x2="40" y2="186.1" stroke="#1e1e1e" stroke-width="1.2"/>
<line x1="37.2" y1="136.7" x2="40" y2="136.7" stroke="#1e1e1e" stroke-width="1.2"/>
<line x1="37.2" y1="87.3" x2="40" y2="87.3" stroke="#1e1e1e" stroke-width="1.2"/>
<line x1="37.2" y1="37.9" x2="40" y2="37.9" stroke="#1e1e1e" stroke-width="1.2"/>
<line x1="40.0" y1="210.8" x2="40.0" y2="216" stroke="#1e1e1e" stroke-width="1.2"/>
<text transform="translate(39.60,226.90) scale(0.95,1)" text-anchor="middle" font-size="9.9" font-weight="bold" stroke="#111" stroke-width="0.32">0</text>
<line x1="76.6" y1="210.8" x2="76.6" y2="216" stroke="#1e1e1e" stroke-width="1.2"/>
<text transform="translate(76.23,226.90) scale(0.95,1)" text-anchor="middle" font-size="9.9" font-weight="bold" stroke="#111" stroke-width="0.32">10</text>
<line x1="113.3" y1="210.8" x2="113.3" y2="216" stroke="#1e1e1e" stroke-width="1.2"/>
<text transform="translate(112.87,226.90) scale(0.95,1)" text-anchor="middle" font-size="9.9" font-weight="bold" stroke="#111" stroke-width="0.32">20</text>
<line x1="149.9" y1="210.8" x2="149.9" y2="216" stroke="#1e1e1e" stroke-width="1.2"/>
<text transform="translate(149.50,226.90) scale(0.95,1)" text-anchor="middle" font-size="9.9" font-weight="bold" stroke="#111" stroke-width="0.32">30</text>
<line x1="186.5" y1="210.8" x2="186.5" y2="216" stroke="#1e1e1e" stroke-width="1.2"/>
<text transform="translate(186.13,226.90) scale(0.95,1)" text-anchor="middle" font-size="9.9" font-weight="bold" stroke="#111" stroke-width="0.32">40</text>
<line x1="223.2" y1="210.8" x2="223.2" y2="216" stroke="#1e1e1e" stroke-width="1.2"/>
<text transform="translate(222.77,226.90) scale(0.95,1)" text-anchor="middle" font-size="9.9" font-weight="bold" stroke="#111" stroke-width="0.32">50</text>
<line x1="259.8" y1="210.8" x2="259.8" y2="216" stroke="#1e1e1e" stroke-width="1.2"/>
<text transform="translate(259.40,226.90) scale(0.95,1)" text-anchor="middle" font-size="9.9" font-weight="bold" stroke="#111" stroke-width="0.32">60</text>
<line x1="58.3" y1="210.8" x2="58.3" y2="213.5" stroke="#1e1e1e" stroke-width="1.2"/>
<line x1="95.0" y1="210.8" x2="95.0" y2="213.5" stroke="#1e1e1e" stroke-width="1.2"/>
<line x1="131.6" y1="210.8" x2="131.6" y2="213.5" stroke="#1e1e1e" stroke-width="1.2"/>
<line x1="168.2" y1="210.8" x2="168.2" y2="213.5" stroke="#1e1e1e" stroke-width="1.2"/>
<line x1="204.8" y1="210.8" x2="204.8" y2="213.5" stroke="#1e1e1e" stroke-width="1.2"/>
<line x1="241.5" y1="210.8" x2="241.5" y2="213.5" stroke="#1e1e1e" stroke-width="1.2"/>
<text x="49.4" y="23.8" font-size="11.6" font-weight="bold" stroke="#111" stroke-width="0.32">(a)</text>
<text x="118.3" y="246" font-size="11.7" font-weight="bold" stroke="#111" stroke-width="0.32">Time, min</text>
<text transform="translate(19.2,101.1) rotate(-90)" text-anchor="middle" font-size="12.3" font-weight="bold" stroke="#111" stroke-width="0.32">W, mmol CO/mol Pt · s</text>
<line x1="141.5" y1="36.70" x2="169.6" y2="36.70" stroke="#444" stroke-width="1.5"/>
<text x="173.1" y="41.20" font-size="12" font-weight="bold" stroke="#111" stroke-width="0.32">50 ppm CO</text>
<line x1="141.5" y1="52.10" x2="169.6" y2="52.10" stroke="#a87060" stroke-width="1.5"/>
<text x="173.1" y="56.65" font-size="12" font-weight="bold" stroke="#111" stroke-width="0.32">75 ppm CO</text>
<line x1="141.5" y1="67.50" x2="169.6" y2="67.50" stroke="#2c2cac" stroke-width="1.5"/>
<text x="173.1" y="72.10" font-size="12" font-weight="bold" stroke="#111" stroke-width="0.32">100 ppm CO</text>
<line x1="141.5" y1="82.90" x2="169.6" y2="82.90" stroke="#6a8a50" stroke-width="1.5"/>
<text x="173.1" y="87.55" font-size="12" font-weight="bold" stroke="#111" stroke-width="0.32">200 ppm CO</text>
<line x1="141.5" y1="98.30" x2="169.6" y2="98.30" stroke="#c8b870" stroke-width="1.5"/>
<text x="173.1" y="103.00" font-size="12" font-weight="bold" stroke="#111" stroke-width="0.32">400 ppm CO</text>
<line x1="141.5" y1="113.70" x2="169.6" y2="113.70" stroke="#5a40d8" stroke-width="1.5"/>
<text x="173.1" y="118.45" font-size="12" font-weight="bold" stroke="#111" stroke-width="0.32">800 ppm CO</text>
<line x1="141.5" y1="129.10" x2="169.6" y2="129.10" stroke="#a07098" stroke-width="1.5"/>
<text x="173.1" y="133.90" font-size="12" font-weight="bold" stroke="#111" stroke-width="0.32">1600 ppm CO</text>
<rect x="351.5" y="184.4" width="98" height="5.4" fill="#fde8f6"/>
<rect x="456" y="183.5" width="25" height="6" fill="#fef3fa"/>
<rect x="383.7" y="199.0" width="8" height="9" fill="#fde0f2"/>
<rect x="414.8" y="199.1" width="10" height="12" fill="#fde0f2"/>
<rect x="448.4" y="175.5" width="7.800000000000001" height="15.200000000000001" fill="#fde0f2"/>
<rect x="480.8" y="176.0" width="7.8" height="14.700000000000001" fill="#fde0f2"/>
<rect x="513.0" y="185.3" width="12" height="12" fill="#fde0f2"/>
<line x1="353.6" y1="190.4" x2="519.0" y2="189.8" stroke="#a86a48" stroke-width="1.1"/>
<line x1="353.6" y1="191.0" x2="519.0" y2="27.0" stroke="#111" stroke-width="1.1"/>
<rect x="350.74" y="188.39" width="5.8" height="5.8" fill="#5a1008"/>
<rect x="383.80" y="199.36" width="5.8" height="5.8" fill="#c0341a"/>
<rect x="416.87" y="202.45" width="5.8" height="5.8" fill="#c0301a"/>
<rect x="449.93" y="182.75" width="5.8" height="5.8" fill="#b82c10"/>
<rect x="483.00" y="179.77" width="5.8" height="5.8" fill="#8a3a10"/>
<rect x="516.06" y="188.71" width="5.8" height="5.8" fill="#7a4a12"/>
<rect x="370.07" y="171.80" width="5.8" height="5.8" fill="#111"/>
<rect x="383.80" y="155.08" width="5.8" height="5.8" fill="#111"/>
<rect x="416.87" y="121.42" width="5.8" height="5.8" fill="#111"/>
<rect x="449.93" y="90.33" width="5.8" height="5.8" fill="#111"/>
<rect x="483.00" y="56.67" width="5.8" height="5.8" fill="#111"/>
<rect x="516.06" y="24.61" width="5.8" height="5.8" fill="#111"/>
<rect x="350.74" y="188.09" width="5.8" height="5.8" fill="#2a0a08"/>
<line x1="315.3" y1="12.7" x2="315.3" y2="211.4" stroke="#1e1e1e" stroke-width="1.3"/>
<line x1="314.7" y1="210.8" x2="535.6" y2="210.8" stroke="#1e1e1e" stroke-width="1.3"/>
<line x1="309.8" y1="194.4" x2="315.3" y2="194.4" stroke="#1e1e1e" stroke-width="1.2"/>
<text transform="translate(307.20,197.00) scale(0.95,1)" text-anchor="end" font-size="9.9" font-weight="bold" stroke="#111" stroke-width="0.32">1.0</text>
<line x1="288.2" y1="194.5" x2="292.4" y2="194.5" stroke="#808080" stroke-width="0.9"/>
<line x1="309.8" y1="173.1" x2="315.3" y2="173.1" stroke="#1e1e1e" stroke-width="1.2"/>
<text transform="translate(307.20,175.70) scale(0.95,1)" text-anchor="end" font-size="9.9" font-weight="bold" stroke="#111" stroke-width="0.32">0.8</text>
<line x1="288.2" y1="173.2" x2="292.4" y2="173.2" stroke="#808080" stroke-width="0.9"/>
<line x1="309.8" y1="151.8" x2="315.3" y2="151.8" stroke="#1e1e1e" stroke-width="1.2"/>
<text transform="translate(307.20,154.40) scale(0.95,1)" text-anchor="end" font-size="9.9" font-weight="bold" stroke="#111" stroke-width="0.32">0.6</text>
<line x1="288.2" y1="151.9" x2="292.4" y2="151.9" stroke="#808080" stroke-width="0.9"/>
<line x1="309.8" y1="130.5" x2="315.3" y2="130.5" stroke="#1e1e1e" stroke-width="1.2"/>
<text transform="translate(307.20,133.10) scale(0.95,1)" text-anchor="end" font-size="9.9" font-weight="bold" stroke="#111" stroke-width="0.32">0.4</text>
<line x1="288.2" y1="130.6" x2="292.4" y2="130.6" stroke="#808080" stroke-width="0.9"/>
<line x1="309.8" y1="109.2" x2="315.3" y2="109.2" stroke="#1e1e1e" stroke-width="1.2"/>
<text transform="translate(307.20,111.80) scale(0.95,1)" text-anchor="end" font-size="9.9" font-weight="bold" stroke="#111" stroke-width="0.32">0.2</text>
<line x1="288.2" y1="109.3" x2="292.4" y2="109.3" stroke="#808080" stroke-width="0.9"/>
<line x1="309.8" y1="87.9" x2="315.3" y2="87.9" stroke="#1e1e1e" stroke-width="1.2"/>
<text transform="translate(307.20,90.50) scale(0.95,1)" text-anchor="end" font-size="9.9" font-weight="bold" stroke="#111" stroke-width="0.32">0.0</text>
<line x1="309.8" y1="66.6" x2="315.3" y2="66.6" stroke="#1e1e1e" stroke-width="1.2"/>
<text transform="translate(307.20,69.20) scale(0.95,1)" text-anchor="end" font-size="9.9" font-weight="bold" stroke="#111" stroke-width="0.32">0.2</text>
<line x1="309.8" y1="45.3" x2="315.3" y2="45.3" stroke="#1e1e1e" stroke-width="1.2"/>
<text transform="translate(307.20,47.90) scale(0.95,1)" text-anchor="end" font-size="9.9" font-weight="bold" stroke="#111" stroke-width="0.32">0.4</text>
<line x1="309.8" y1="24.0" x2="315.3" y2="24.0" stroke="#1e1e1e" stroke-width="1.2"/>
<text transform="translate(307.20,26.60) scale(0.95,1)" text-anchor="end" font-size="9.9" font-weight="bold" stroke="#111" stroke-width="0.32">0.6</text>
<line x1="312.6" y1="205.1" x2="315.3" y2="205.1" stroke="#1e1e1e" stroke-width="1.2"/>
<line x1="312.6" y1="183.8" x2="315.3" y2="183.8" stroke="#1e1e1e" stroke-width="1.2"/>
<line x1="312.6" y1="162.5" x2="315.3" y2="162.5" stroke="#1e1e1e" stroke-width="1.2"/>
<line x1="312.6" y1="141.2" x2="315.3" y2="141.2" stroke="#1e1e1e" stroke-width="1.2"/>
<line x1="312.6" y1="119.9" x2="315.3" y2="119.9" stroke="#1e1e1e" stroke-width="1.2"/>
<line x1="312.6" y1="98.6" x2="315.3" y2="98.6" stroke="#1e1e1e" stroke-width="1.2"/>
<line x1="312.6" y1="77.2" x2="315.3" y2="77.2" stroke="#1e1e1e" stroke-width="1.2"/>
<line x1="312.6" y1="56.0" x2="315.3" y2="56.0" stroke="#1e1e1e" stroke-width="1.2"/>
<line x1="312.6" y1="34.7" x2="315.3" y2="34.7" stroke="#1e1e1e" stroke-width="1.2"/>
<line x1="312.6" y1="13.3" x2="315.3" y2="13.3" stroke="#1e1e1e" stroke-width="1.2"/>
<line x1="315.3" y1="210.8" x2="315.3" y2="216" stroke="#1e1e1e" stroke-width="1.2"/>
<text transform="translate(315.10,226.90) scale(0.95,1)" text-anchor="middle" font-size="9.9" font-weight="bold" stroke="#111" stroke-width="0.32">4.0</text>
<line x1="303.4" y1="224.2" x2="308.0" y2="224.2" stroke="#808080" stroke-width="0.9"/>
<line x1="370.2" y1="210.8" x2="370.2" y2="216" stroke="#1e1e1e" stroke-width="1.2"/>
<text transform="translate(370.03,226.90) scale(0.95,1)" text-anchor="middle" font-size="9.9" font-weight="bold" stroke="#111" stroke-width="0.32">3.5</text>
<line x1="358.3" y1="224.2" x2="362.9" y2="224.2" stroke="#808080" stroke-width="0.9"/>
<line x1="425.1" y1="210.8" x2="425.1" y2="216" stroke="#1e1e1e" stroke-width="1.2"/>
<text transform="translate(424.95,226.90) scale(0.95,1)" text-anchor="middle" font-size="9.9" font-weight="bold" stroke="#111" stroke-width="0.32">3.0</text>
<line x1="413.2" y1="224.2" x2="417.8" y2="224.2" stroke="#808080" stroke-width="0.9"/>
<line x1="480.1" y1="210.8" x2="480.1" y2="216" stroke="#1e1e1e" stroke-width="1.2"/>
<text transform="translate(479.88,226.90) scale(0.95,1)" text-anchor="middle" font-size="9.9" font-weight="bold" stroke="#111" stroke-width="0.32">2.5</text>
<line x1="468.2" y1="224.2" x2="472.8" y2="224.2" stroke="#808080" stroke-width="0.9"/>
<line x1="535.0" y1="210.8" x2="535.0" y2="216" stroke="#1e1e1e" stroke-width="1.2"/>
<text transform="translate(534.80,226.90) scale(0.95,1)" text-anchor="middle" font-size="9.9" font-weight="bold" stroke="#111" stroke-width="0.32">2.0</text>
<line x1="523.1" y1="224.2" x2="527.7" y2="224.2" stroke="#808080" stroke-width="0.9"/>
<line x1="342.8" y1="210.8" x2="342.8" y2="213.5" stroke="#1e1e1e" stroke-width="1.2"/>
<line x1="397.7" y1="210.8" x2="397.7" y2="213.5" stroke="#1e1e1e" stroke-width="1.2"/>
<line x1="452.6" y1="210.8" x2="452.6" y2="213.5" stroke="#1e1e1e" stroke-width="1.2"/>
<line x1="507.5" y1="210.8" x2="507.5" y2="213.5" stroke="#1e1e1e" stroke-width="1.2"/>
<text x="324.4" y="22.8" font-size="11.6" font-weight="bold" stroke="#111" stroke-width="0.32">(b</text>
<text x="336.3" y="22.9" font-size="11.8" stroke="#111" stroke-width="0.35">)</text>
<text x="320.6" y="47.3" font-size="11.6" font-weight="bold" stroke="#111" stroke-width="0.32">LgW = 8<tspan font-weight="normal" stroke-width="0">·</tspan>10</text>
<line x1="384" y1="38.9" x2="387" y2="38.9" stroke="#999" stroke-width="0.8"/>
<text x="386.8" y="41" font-size="7" font-weight="bold">4</text>
<text x="391" y="47.3" font-size="11.6" font-weight="bold" stroke="#111" stroke-width="0.32">+1.0</text>
<text x="418" y="47.3" font-size="11.6">·</text>
<text x="424.3" y="47.3" font-size="11.6" font-weight="bold" stroke="#111" stroke-width="0.32">LgC</text>
<text x="448" y="52.3" font-size="7.4" font-weight="bold" stroke="#111" stroke-width="0.32">CO</text>
<rect x="416.3" y="143.6" width="15.6" height="8.1" fill="#fcd8f0"/>
<rect x="421.9" y="144.2" width="7.2" height="6.8" fill="#b8281a"/>
<rect x="421.9" y="144.2" width="2" height="6.8" fill="#7a4020"/>
<rect x="422.2" y="159.7" width="6.6" height="6.3" fill="#111"/>
<text x="443.1" y="151.9" font-size="12" font-weight="bold" stroke="#111" stroke-width="0.32">steady state rate</text>
<text x="443.1" y="166.7" font-size="12" font-weight="bold" stroke="#111" stroke-width="0.32">initial rate</text>
<text x="417.1" y="245.2" font-size="11.7" font-weight="bold" stroke="#111" stroke-width="0.32">LgC</text>
<text x="440.2" y="250.7" font-size="7.8" font-weight="bold" stroke="#111" stroke-width="0.32">CO</text>
<text transform="translate(282.4,109.1) rotate(-90)" text-anchor="middle" font-size="11.7" font-weight="bold" stroke="#111" stroke-width="0.32">LgW</text></svg>
</body></html>
